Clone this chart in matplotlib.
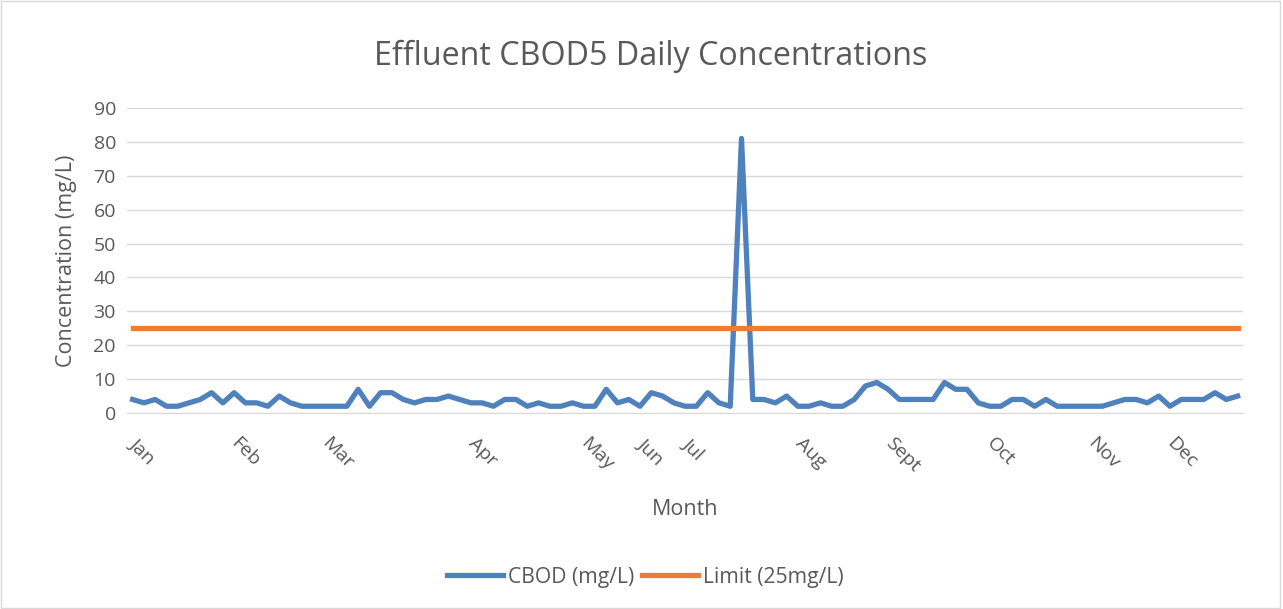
import matplotlib.pyplot as plt
from matplotlib.patches import Rectangle

# Data
cbod = [4, 3, 4, 2, 2, 3, 4, 6, 3, 6, 3, 3, 2, 5, 3, 2, 2, 2,
        2, 2, 7, 2, 6, 6, 4, 3, 4, 4, 5, 4, 3, 3, 2, 4, 4,
        2, 3, 2, 2, 3, 2, 2, 7, 3, 4, 2, 6, 5, 3, 2, 2,
        6, 3, 2, 81, 4, 4, 3, 5, 2, 2, 3, 2, 2, 4, 8, 9, 7,
        4, 4, 4, 4, 9, 7, 7, 3, 2, 2, 4, 4, 2, 4, 2, 2, 2,
        2, 2, 3, 4, 4, 3, 5, 2, 4, 4, 4, 6, 4, 5]
limit = [25] * len(cbod)
month_names = ['Jan', 'Feb', 'Mar', 'Apr', 'May', 'Jun', 'Jul', 'Aug',
               'Sept', 'Oct', 'Nov', 'Dec']
month_index = [0, 9, 17, 30, 40, 45, 49, 59, 67, 76, 85, 92]

plt.rcParams['font.family'] = ['Open Sans', 'DejaVu Sans']
text_color = '#595959'
grid_color = '#d9d9d9'

fig = plt.figure(figsize=(12.83, 6.09), dpi=100)
fig.patches.append(Rectangle((0.001, 0.002), 0.997, 0.996, transform=fig.transFigure,
                             fill=False, edgecolor=grid_color, linewidth=1))
ax = fig.add_axes([0.099, 0.3218, 0.870, 0.5009])

x = list(range(len(cbod)))
ax.plot(x, cbod, color='#4f81bd', linewidth=3.8, label='CBOD (mg/L)',
        solid_joinstyle='round', zorder=3)
ax.plot(x, limit, color='#ed7d31', linewidth=3.8, label='Limit (25mg/L)', zorder=3)

ax.set_xlim(-0.5, len(cbod) - 0.5)
ax.set_ylim(0, 90)
ax.set_yticks(range(0, 91, 10))
ax.set_xticks(month_index)
ax.set_xticklabels(month_names, rotation=-45, ha='left', va='center',
                   rotation_mode='anchor')
ax.tick_params(length=0, colors=text_color, labelsize=14)
ax.tick_params(axis='x', pad=20)
ax.tick_params(axis='y', pad=8)
ax.grid(axis='y', color=grid_color, linewidth=1)
ax.set_axisbelow(True)
for side in ['top', 'right', 'left']:
    ax.spines[side].set_visible(False)
ax.spines['bottom'].set_color(grid_color)

fig.text(0.507, 0.907, 'Effluent CBOD5 Daily Concentrations', fontsize=23.2,
         color=text_color, ha='center', va='center')
ax.set_xlabel('Month', fontsize=15.5, color=text_color, labelpad=17)
ax.set_ylabel('Concentration (mg/L)', fontsize=15.5, color=text_color, labelpad=12)

fig.legend(loc='center', bbox_to_anchor=(0.503, 0.052), ncol=2, frameon=False,
           fontsize=15.2, labelcolor=text_color, handlelength=2.65, handletextpad=0.25,
           columnspacing=0.35)

fig.savefig('out.png', dpi=100)
